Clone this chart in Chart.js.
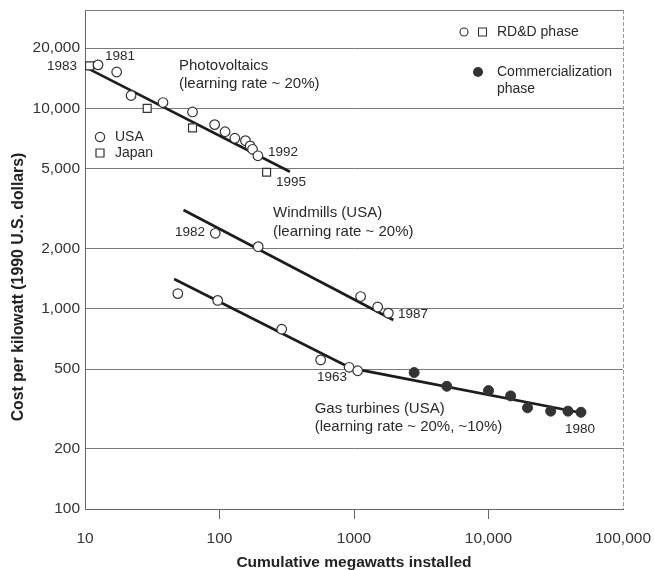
<!DOCTYPE html>
<html>
<head>
<meta charset="utf-8">
<script src="https://cdn.jsdelivr.net/npm/chart.js@4"></script>
<style>
html,body{margin:0;padding:0;background:#fff;}
#wrap{width:654px;height:570px;position:relative;}
</style>
</head>
<body>
<div id="wrap"><canvas id="c"></canvas></div>
<script>
// ---- Data ----
const pvUsaX = [12.5, 17.2, 22, 38, 63, 92, 110, 130, 156, 169, 176, 193];
const pvUsaY = [16500, 15200, 11600, 10700, 9600, 8300, 7650, 7100, 6900, 6500, 6250, 5800];
const pvJapanX = [10.8, 29, 63, 224];
const pvJapanY = [16300, 10000, 8000, 4800];
const pvFitX = [10.4, 334];
const pvFitY = [15900, 4830];

const windX = [93, 194, 1120, 1500, 1800];
const windY = [2380, 2040, 1150, 1020, 950];
const windFitX = [54, 1960];
const windFitY = [3110, 878];

const gasRddX = [49, 97, 290, 565, 920, 1065];
const gasRddY = [1190, 1100, 790, 555, 510, 490];
const gasComX = [2800, 4900, 10000, 14600, 19500, 29000, 39000, 48700];
const gasComY = [480, 410, 390, 367, 320, 308, 308, 304];
const gasFitX = [46, 950, 52000];
const gasFitY = [1407, 505, 300];

const xTicks = [10, 100, 1000, 10000, 100000];
const xTickLabels = ['10', '100', '1000', '10,000', '100,000'];
const yTicks = [100, 200, 500, 1000, 2000, 5000, 10000, 20000];
const yTickLabels = ['100', '200', '500', '1,000', '2,000', '5,000', '10,000', '20,000'];

const xTitle = 'Cumulative megawatts installed';
const yTitle = 'Cost per kilowatt (1990 U.S. dollars)';

// ---- Text annotations, anchored in data space ----
const notes = [
  {text: '1983', x: 8.72, y: 16280, align: 'right', size: 13.5},
  {text: '1981', x: 14.1, y: 18260, size: 13.5},
  {text: 'Photovoltaics', x: 50, y: 16280, size: 15},
  {text: '(learning rate ~ 20%)', x: 50, y: 13240, size: 15},
  {text: '1992', x: 229, y: 6058, size: 13.5},
  {text: '1995', x: 263, y: 4290, size: 13.5},
  {text: '1982', x: 46.7, y: 2415, size: 13.5},
  {text: 'Windmills (USA)', x: 250, y: 3004, size: 15},
  {text: '(learning rate ~ 20%)', x: 250, y: 2415, size: 15},
  {text: '1987', x: 2124, y: 941, size: 13.5},
  {text: '1963', x: 531, y: 456, size: 13.5},
  {text: 'Gas turbines (USA)', x: 510, y: 316, size: 15},
  {text: '(learning rate ~ 20%, ~10%)', x: 510, y: 257, size: 15},
  {text: '1980', x: 37050, y: 251, size: 13.5}
];

const FONT = "'Liberation Sans', Arial, Helvetica, sans-serif";
const TXT = '#2a2a2a';
const LINE = '#1c1c1c';

function pts(xs, ys) { return xs.map((x, i) => ({x: x, y: ys[i]})); }

const openCircle = {pointStyle: 'circle', pointRadius: 4.8, pointBackgroundColor: '#fff',
  pointBorderColor: '#333', pointBorderWidth: 1.2, showLine: false, order: 0};
const openSquare = {pointStyle: 'rect', pointRadius: 5.6, pointBackgroundColor: '#fff',
  pointBorderColor: '#333', pointBorderWidth: 1.2, showLine: false, order: 0};
const fitLine = {showLine: true, pointRadius: 0, borderColor: LINE, borderWidth: 2.6,
  backgroundColor: LINE, fill: false, order: 5};

const notesPlugin = {
  id: 'notes',
  afterDraw(chart) {
    const {ctx, chartArea: ca, scales: {x, y}} = chart;
    ctx.save();
    // top frame line and dashed right frame
    ctx.strokeStyle = '#777'; ctx.lineWidth = 1;
    ctx.beginPath(); ctx.moveTo(ca.left, Math.round(ca.top) + 0.5); ctx.lineTo(ca.right, Math.round(ca.top) + 0.5); ctx.stroke();
    ctx.strokeStyle = '#999'; ctx.setLineDash([4, 2]);
    ctx.beginPath(); ctx.moveTo(Math.round(ca.right) + 0.5, ca.top); ctx.lineTo(Math.round(ca.right) + 0.5, ca.bottom); ctx.stroke();
    ctx.setLineDash([]);

    ctx.fillStyle = TXT;
    ctx.textBaseline = 'middle';
    notes.forEach(n => {
      ctx.font = n.size + 'px ' + FONT;
      ctx.textAlign = n.align || 'left';
      ctx.fillText(n.text, x.getPixelForValue(n.x), y.getPixelForValue(n.y));
    });

    // Y axis title (rotated, sits a little below the axis centre as in the reference)
    ctx.save();
    ctx.translate(19, 287);
    ctx.rotate(-Math.PI / 2);
    ctx.font = 'bold 15.8px ' + FONT;
    ctx.fillStyle = '#222';
    ctx.textAlign = 'center';
    ctx.fillText(yTitle, 0, 0);
    ctx.restore();

    // Country legend (USA / Japan)
    ctx.strokeStyle = '#333'; ctx.lineWidth = 1.2; ctx.fillStyle = '#fff';
    ctx.beginPath(); ctx.arc(100, 137, 4.6, 0, Math.PI * 2); ctx.fill(); ctx.stroke();
    ctx.beginPath(); ctx.rect(96, 149, 8, 8); ctx.fill(); ctx.stroke();
    ctx.fillStyle = TXT; ctx.textAlign = 'left'; ctx.font = '14px ' + FONT;
    ctx.fillText('USA', 115, 137);
    ctx.fillText('Japan', 115, 153);

    // Phase legend
    ctx.fillStyle = '#fff'; ctx.strokeStyle = '#333'; ctx.lineWidth = 1.1;
    ctx.beginPath(); ctx.arc(464, 32, 4, 0, Math.PI * 2); ctx.fill(); ctx.stroke();
    ctx.beginPath(); ctx.rect(478.5, 28, 8, 8); ctx.fill(); ctx.stroke();
    ctx.fillStyle = '#333';
    ctx.beginPath(); ctx.arc(478, 72, 5, 0, Math.PI * 2); ctx.fill();
    ctx.fillStyle = TXT; ctx.font = '14px ' + FONT;
    ctx.fillText('RD&D phase', 497, 32);
    ctx.fillText('Commercialization', 497, 72);
    ctx.fillText('phase', 497, 89);
    ctx.restore();
  }
};

new Chart(document.getElementById('c'), {
  type: 'scatter',
  data: {
    datasets: [
      Object.assign({label: 'PV fit', data: pts(pvFitX, pvFitY)}, fitLine),
      Object.assign({label: 'Wind fit', data: pts(windFitX, windFitY)}, fitLine),
      Object.assign({label: 'Gas fit', data: pts(gasFitX, gasFitY)}, fitLine),
      Object.assign({label: 'PV USA', data: pts(pvUsaX, pvUsaY)}, openCircle),
      Object.assign({label: 'PV Japan', data: pts(pvJapanX, pvJapanY)}, openSquare),
      Object.assign({label: 'Windmills', data: pts(windX, windY)}, openCircle),
      Object.assign({label: 'Gas RD&D', data: pts(gasRddX, gasRddY)}, openCircle),
      {label: 'Gas commercial', data: pts(gasComX, gasComY), pointStyle: 'circle', pointRadius: 5,
        pointBackgroundColor: '#333', pointBorderColor: '#333', pointBorderWidth: 1, showLine: false, order: 0}
    ]
  },
  options: {
    responsive: true,
    maintainAspectRatio: false,
    animation: false,
    layout: {padding: {top: 10, right: 31, left: 0, bottom: 0}},
    plugins: {legend: {display: false}, tooltip: {enabled: false}},
    scales: {
      x: {
        type: 'logarithmic', min: 10, max: 100000,
        afterBuildTicks: s => { s.ticks = xTicks.map(v => ({value: v})); },
        afterFit: s => { s.height = 61; s.paddingLeft = 0; s.paddingRight = 0; },
        ticks: {
          autoSkip: false, maxRotation: 0, padding: 10, color: '#333',
          font: {family: FONT, size: 15.5},
          callback: v => xTickLabels[xTicks.indexOf(v)]
        },
        grid: {
          drawOnChartArea: false, drawTicks: true, tickLength: 10, lineWidth: 1,
          color: c => (c.index === 0 || c.index === xTicks.length - 1) ? 'rgba(0,0,0,0)' : '#666'
        },
        border: {color: '#666', width: 1},
        title: {display: true, text: xTitle, color: '#222',
          font: {family: FONT, size: 15.5, weight: 'bold', lineHeight: 1}, padding: {top: 0, bottom: 0}}
      },
      y: {
        type: 'logarithmic', min: 100, max: 31000,
        afterBuildTicks: s => { s.ticks = yTicks.map(v => ({value: v})); },
        afterFit: s => { s.width = 85; s.paddingTop = 0; s.paddingBottom = 0; },
        ticks: {
          autoSkip: false, padding: 5, color: '#333',
          font: {family: FONT, size: 15.5},
          callback: v => yTickLabels[yTicks.indexOf(v)]
        },
        grid: {drawTicks: false, tickLength: 0, color: '#7a7a7a', lineWidth: 1},
        border: {color: '#666', width: 1},
        title: {display: false}
      }
    }
  },
  plugins: [notesPlugin]
});
</script>
</body>
</html>
